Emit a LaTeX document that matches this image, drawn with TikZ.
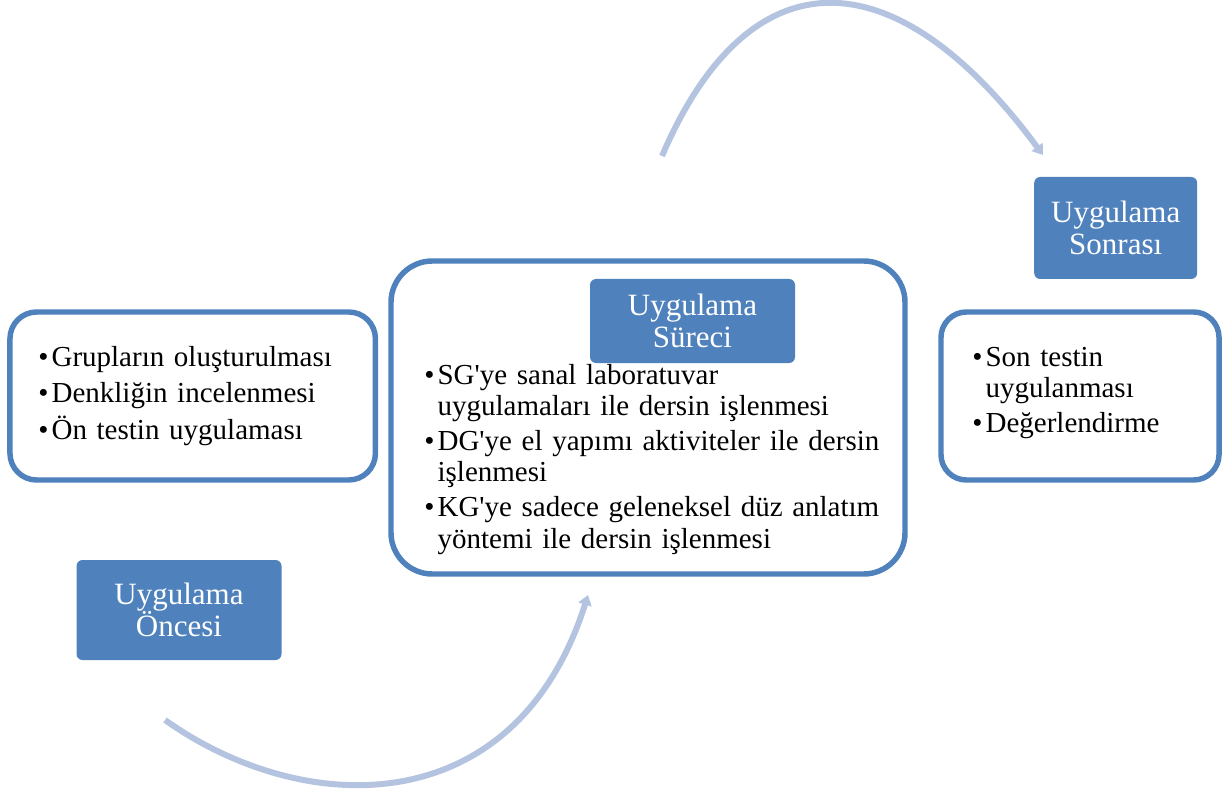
\documentclass[tikz,border=0pt]{standalone}
\usepackage{fontspec}
\setmainfont{Liberation Serif}[Ligatures=TeXOff]
\usepackage{xcolor}
\usepackage{tikz}
\usetikzlibrary{arrows.meta}

\definecolor{boxblue}{RGB}{79,129,189}
\definecolor{arcblue}{RGB}{180,196,224}
\newcommand{\bul}{\makebox[10pt][l]{\textbullet}}
\newcommand{\ind}{\hspace*{10pt}}

\begin{document}
\begin{tikzpicture}[x=0.75pt,y=0.75pt,yscale=-1,xscale=1,
  listbox/.style={draw=boxblue,line width=4.1pt,fill=white,inner sep=0pt},
  steplabel/.style={fill=boxblue,rounded corners=4.5pt,text=white,align=center,inner sep=0pt,
    font=\fontsize{23.25}{24}\selectfont},
  listtext/.style={anchor=base west,align=left,inner sep=0pt,
    font=\fontsize{21.75}{23.6}\selectfont},
  cyclearc/.style={draw=arcblue,line width=4.5pt,-{Triangle[width=10pt,length=7.5pt]}}]
\useasboundingbox (0,0) rectangle (1223,798);

%Rounded Rect: before
\node [listbox,rounded corners=20pt,minimum width=274.1pt,minimum height=126pt] (pre) at (192.7,396) {};
%Rounded Rect: process
\node [listbox,rounded corners=31pt,minimum width=385.5pt,minimum height=234.75pt] (proc) at (648,417.5) {};
%Rounded Rect: after
\node [listbox,rounded corners=19pt,minimum width=208.5pt,minimum height=126pt] (post) at (1080,396) {};

% Text Node
\node [steplabel,minimum width=153.75pt,minimum height=75pt] (lblpre) at (179,610) {Uygulama\\Öncesi};
% Text Node
\node [steplabel,minimum width=153.75pt,minimum height=63pt] (lblproc) at (692.5,321) {Uygulama\\Süreci};
% Text Node
\node [steplabel,minimum width=122.25pt,minimum height=76.5pt] (lblpost) at (1115.7,228) {Uygulama\\Sonrası};

% Text Node
\node [listtext,text width=250pt] (pretxt) at (38,366) {\bul Grupların oluşturulması\\[4pt]\bul Denkliğin incelenmesi\\[4pt]\bul Ön testin uygulaması};
% Text Node
\node [listtext,text width=360pt] (proctxt) at (424,384) {\bul SG'ye sanal laboratuvar\\\ind uygulamaları ile dersin işlenmesi\\[2.6pt]\bul DG'ye el yapımı aktiviteler ile dersin\\\ind işlenmesi\\[2.6pt]\bul KG'ye sadece geleneksel düz anlatım\\\ind yöntemi ile dersin işlenmesi};
% Text Node
\node [listtext,text width=180pt] (posttxt) at (972,366) {\bul Son testin\\\ind uygulanması\\[2.6pt]\bul Değerlendirme};

%Arc arrows
\coordinate (topS) at (662,156);
\coordinate (topE) at (1043,155);
\coordinate (botS) at (165,720);
\coordinate (botE) at (588,595);
\draw [cyclearc] (topS) .. controls (748.8,-46.6) and (893.6,-47) .. (topE);
\draw [cyclearc] (botS) .. controls (306,820) and (516,822) .. (botE);

\end{tikzpicture}
\end{document}
